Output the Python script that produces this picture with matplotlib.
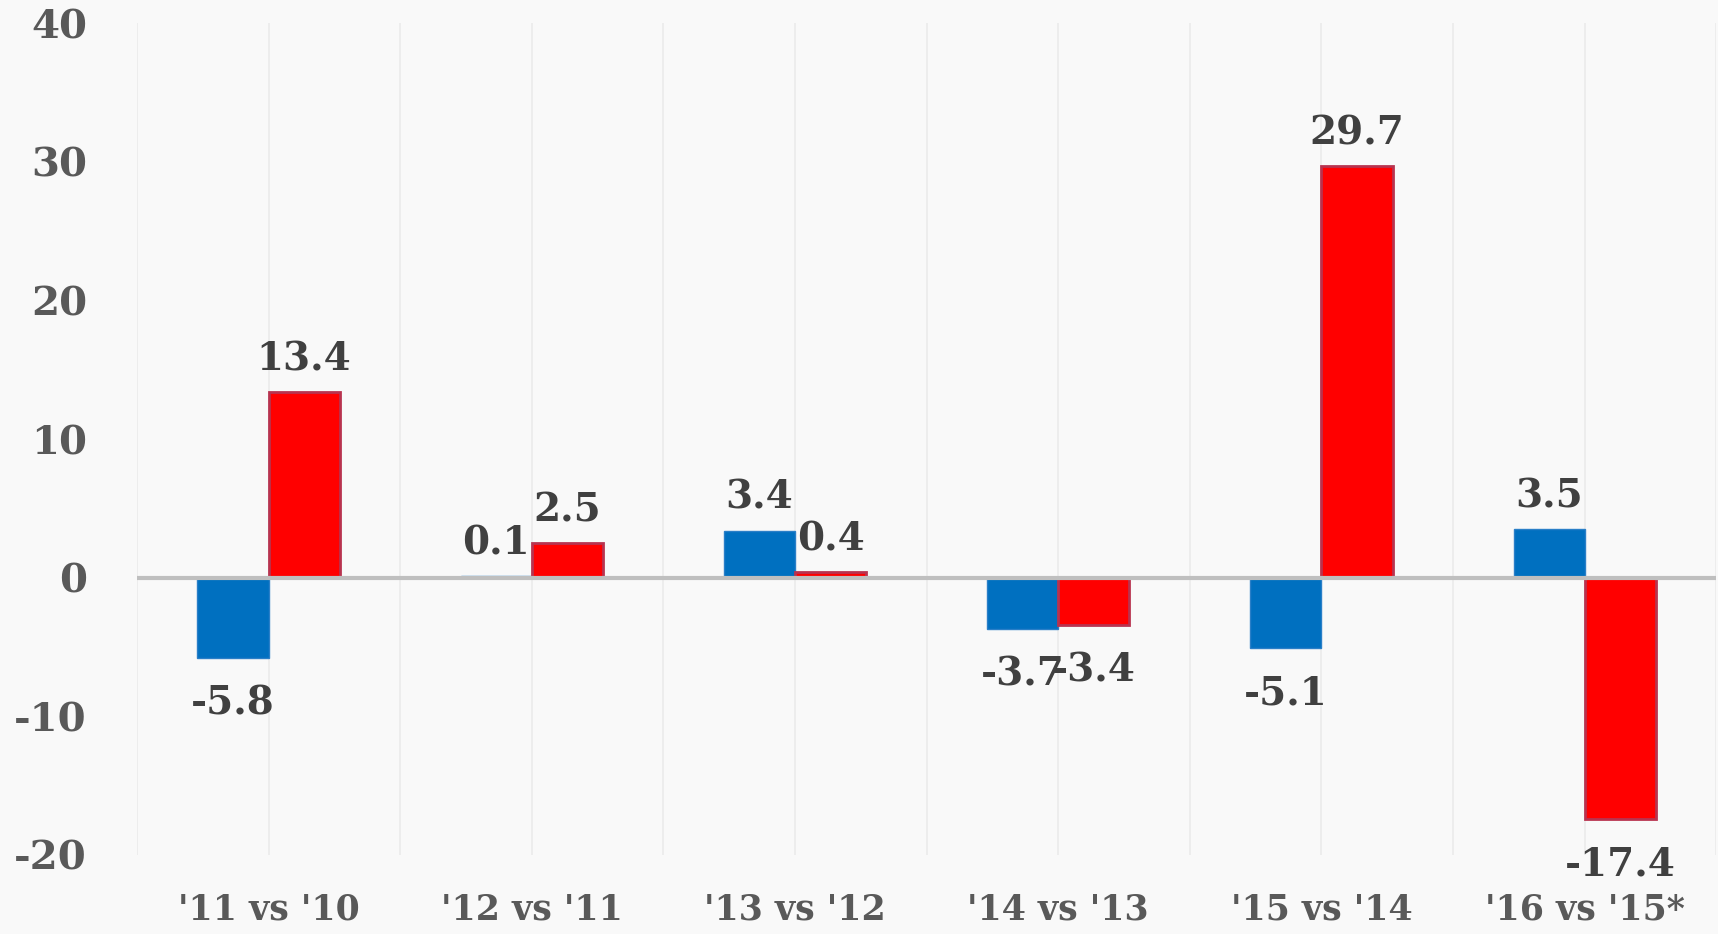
import numpy as np
import matplotlib.pyplot as plt

# year-over-year change, two series
categories = ["'11 vs '10", "'12 vs '11", "'13 vs '12", "'14 vs '13", "'15 vs '14", "'16 vs '15*"]
blue_vals = [-5.8, 0.1, 3.4, -3.7, -5.1, 3.5]
red_vals = [13.4, 2.5, 0.4, -3.4, 29.7, -17.4]
y_ticks = [-20, -10, 0, 10, 20, 30, 40]

plt.rcParams['font.family'] = ['DejaVu Serif']
plt.rcParams['font.weight'] = 'bold'

fig = plt.figure(figsize=(17.18, 9.34), dpi=100)
fig.patch.set_facecolor('#f9f9f9')
ax = fig.add_axes([0.0797, 0.0846, 0.9193, 0.8904])
ax.set_facecolor('#f9f9f9')

x = np.arange(len(categories))
w = 0.27
b1 = ax.bar(x - w / 2, blue_vals, w, color='#0070C0', edgecolor='#2a7fc8', linewidth=1, zorder=3)
b2 = ax.bar(x + w / 2, red_vals, w, color='#FF0000', edgecolor='#b8334f', linewidth=2, zorder=3)

# data labels, outside end
for bars, vals in ((b1, blue_vals), (b2, red_vals)):
    for rect, v in zip(bars, vals):
        cx = rect.get_x() + rect.get_width() / 2
        if v >= 0:
            ax.annotate(f'{v}', (cx, v), xytext=(0, 10), textcoords='offset points',
                        ha='center', va='bottom', fontsize=28, fontweight='bold', color='#404040', zorder=5)
        else:
            ax.annotate(f'{v}', (cx, v), xytext=(0, -19), textcoords='offset points',
                        ha='center', va='top', fontsize=28, fontweight='bold', color='#404040', zorder=5)

ax.axhline(0, color='#bfbfbf', linewidth=3, zorder=4)

# vertical grid every half category
for gx in np.arange(-0.5, len(categories), 0.5):
    ax.axvline(gx, color='#ebebeb', linewidth=1.2, zorder=1)

ax.set_xlim(-0.5, len(categories) - 0.5)
ax.set_ylim(-20, 40)
ax.set_yticks(y_ticks)
ax.set_yticklabels([str(t) for t in y_ticks], fontsize=29, fontweight='bold', color='#595959')
ax.set_xticks(x)
ax.set_xticklabels(categories, fontsize=25, fontweight='bold', color='#595959')
ax.tick_params(axis='both', length=0)
ax.tick_params(axis='x', pad=27)
ax.tick_params(axis='y', pad=36)
for s in ax.spines.values():
    s.set_visible(False)

fig.savefig('out.png', dpi=100, facecolor=fig.get_facecolor())
